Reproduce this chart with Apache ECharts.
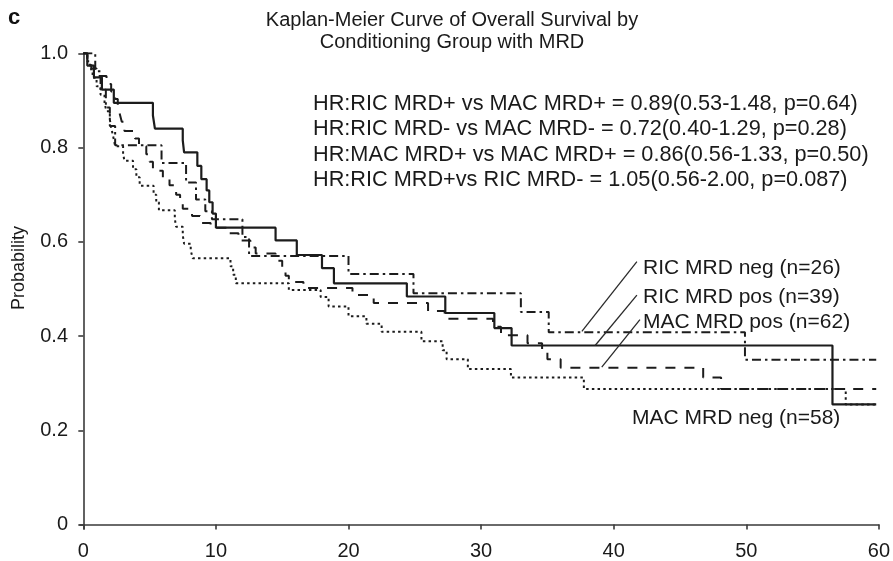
<!DOCTYPE html>
<html>
<head>
<meta charset="utf-8">
<script src="https://cdn.jsdelivr.net/npm/echarts@6/dist/echarts.min.js"></script>
<style>
  html, body { margin: 0; padding: 0; background: #fff; }
  #chart { width: 893px; height: 561px; }
</style>
</head>
<body>
<div id="chart"></div>
<script>
// Kaplan-Meier step estimates: month of each event and survival after it
const ricPosMonths = [0, 0.3, 0.8, 1.4, 2.3, 5.25, 5.4, 7.5, 7.6, 8.6, 8.9, 9.3, 9.5, 9.75, 10.0, 14.5, 16.1, 18.0, 18.9, 24.4, 27.3, 31.0, 32.3, 56.5, 59.8];
const ricPosSurv   = [1, 0.974, 0.949, 0.923, 0.895, 0.868, 0.84, 0.815, 0.79, 0.761, 0.733, 0.709, 0.684, 0.66, 0.63, 0.603, 0.572, 0.544, 0.512, 0.484, 0.449, 0.417, 0.38, 0.255, 0.255];

const ricNegMonths = [0, 0.9, 1.3, 1.7, 2.0, 2.4, 5.9, 7.75, 8.5, 9.2, 9.7, 12.0, 12.5, 20.0, 24.9, 33.0, 35.1, 49.9, 59.8];
const ricNegSurv   = [1, 0.962, 0.923, 0.885, 0.846, 0.805, 0.767, 0.726, 0.69, 0.665, 0.648, 0.61, 0.57, 0.532, 0.491, 0.451, 0.408, 0.35, 0.35];

const macPosMonths = [0, 0.3, 0.6, 1.0, 1.75, 2.1, 2.4, 2.6, 2.75, 2.9, 3.1, 3.9, 4.2, 4.75, 5.0, 5.25, 6.0, 6.5, 7.0, 7.3, 7.5, 8.2, 8.8, 9.6, 10.8, 11.7, 12.6, 13.0, 14.5, 15.0, 15.25, 15.5, 16.6, 20.3, 21.9, 26.0, 27.25, 30.9, 31.5, 33.5, 34.6, 35.0, 36.0, 46.75, 48.1, 59.8];
const macPosSurv   = [1, 0.984, 0.968, 0.952, 0.935, 0.919, 0.903, 0.887, 0.871, 0.855, 0.835, 0.819, 0.803, 0.786, 0.77, 0.751, 0.735, 0.72, 0.70, 0.685, 0.67, 0.655, 0.64, 0.63, 0.618, 0.603, 0.588, 0.575, 0.56, 0.544, 0.528, 0.515, 0.502, 0.487, 0.47, 0.453, 0.437, 0.42, 0.402, 0.385, 0.368, 0.351, 0.333, 0.312, 0.288, 0.288];

const macNegMonths = [0, 0.3, 0.5, 0.7, 1.0, 1.3, 1.6, 1.75, 2.0, 2.1, 2.25, 2.4, 3.0, 3.1, 3.75, 4.0, 4.25, 5.3, 5.5, 5.7, 6.9, 7.0, 7.5, 7.6, 8.1, 8.25, 11.1, 11.3, 11.5, 15.5, 17.9, 18.5, 20.0, 21.35, 22.5, 25.5, 27.1, 27.4, 29.0, 32.25, 37.75, 57.5, 59.8];
const macNegSurv   = [1, 0.983, 0.966, 0.948, 0.93, 0.912, 0.894, 0.877, 0.86, 0.842, 0.824, 0.803, 0.787, 0.772, 0.754, 0.737, 0.719, 0.70, 0.684, 0.667, 0.649, 0.632, 0.614, 0.596, 0.582, 0.565, 0.548, 0.53, 0.512, 0.498, 0.483, 0.463, 0.442, 0.426, 0.409, 0.389, 0.37, 0.351, 0.33, 0.312, 0.288, 0.255, 0.255];

// Group labels and the leader lines from each label to its curve
const groupLabels = ['RIC MRD neg (n=26)', 'RIC MRD pos (n=39)', 'MAC MRD pos (n=62)', 'MAC MRD neg (n=58)'];
const leaderRicNeg = [[41.75, 0.558], [37.6, 0.41]];
const leaderRicPos = [[41.75, 0.487], [38.6, 0.38]];
const leaderMacPos = [[41.98, 0.435], [39.1, 0.334]];

const titleLines = ['Kaplan-Meier Curve of Overall Survival by', 'Conditioning Group with MRD'];
const hrLines = [
  'HR:RIC MRD+ vs MAC MRD+ = 0.89(0.53-1.48, p=0.64)',
  'HR:RIC MRD- vs MAC MRD- = 0.72(0.40-1.29, p=0.28)',
  'HR:MAC MRD+ vs MAC MRD+ = 0.86(0.56-1.33, p=0.50)',
  'HR:RIC MRD+vs RIC MRD- = 1.05(0.56-2.00, p=0.087)'
];

const xTicks = [0, 10, 20, 30, 40, 50, 60];
const yTicks = [0, 0.2, 0.4, 0.6, 0.8, 1.0];

const pairs = (xs, ys) => xs.map((x, i) => [x, ys[i]]);
const FONT = '"Liberation Sans", Arial, Helvetica, sans-serif';
const INK = '#1c1c1c';
const AXIS = '#3a3a3a';

function stepSeries(name, xs, ys, type, width, z) {
  return {
    name, type: 'line', step: 'end', data: pairs(xs, ys),
    showSymbol: false, symbol: 'none', z,
    lineStyle: { color: INK, width, type, cap: 'butt' },
    emphasis: { disabled: true }, animation: false
  };
}
function leader(data) {
  return {
    type: 'line', data, showSymbol: false, symbol: 'none', z: 5,
    lineStyle: { color: '#2a2a2a', width: 1.3 }, animation: false, silent: true
  };
}

const chart = echarts.init(document.getElementById('chart'), null, { renderer: 'canvas' });

const labelTexts = [
  { text: groupLabels[0], x: 643, y: 268 },
  { text: groupLabels[1], x: 643, y: 297 },
  { text: groupLabels[2], x: 643, y: 322 },
  { text: groupLabels[3], x: 632, y: 418 }
];

chart.setOption({
  animation: false,
  backgroundColor: '#ffffff',
  grid: { left: 80, right: 9.7, top: 53.3, bottom: 28.3, containLabel: false },
  xAxis: {
    type: 'value', min: -0.25, max: 60,
    axisLine: { show: true, lineStyle: { color: AXIS, width: 1.6 } },
    axisTick: { show: true, customValues: xTicks, length: 5, lineStyle: { color: AXIS, width: 1.6 } },
    axisLabel: { customValues: xTicks, margin: 12, color: '#1a1a1a', fontSize: 20, fontFamily: FONT },
    splitLine: { show: false }
  },
  yAxis: {
    type: 'value', min: -0.0093, max: 1.0,
    axisLine: { show: true, lineStyle: { color: AXIS, width: 1.6 } },
    axisTick: { show: true, customValues: yTicks, length: 5, lineStyle: { color: AXIS, width: 1.6 } },
    axisLabel: {
      customValues: yTicks, margin: 12, color: '#1a1a1a', fontSize: 20, fontFamily: FONT,
      formatter: v => (Math.abs(v) < 1e-9 ? '0' : v.toFixed(1))
    },
    splitLine: { show: false }
  },
  series: [
    stepSeries('MAC MRD neg', macNegMonths, macNegSurv, [2.5, 3.2], 2, 2),
    stepSeries('MAC MRD pos', macPosMonths, macPosSurv, [10, 9], 2, 3),
    stepSeries('RIC MRD neg', ricNegMonths, ricNegSurv, [9, 4, 2.5, 4], 2, 3),
    stepSeries('RIC MRD pos', ricPosMonths, ricPosSurv, 'solid', 2.2, 4),
    leader(leaderRicNeg),
    leader(leaderRicPos),
    leader(leaderMacPos)
  ],
  graphic: [
    { type: 'text', x: 14, y: 18, style: { text: 'c', font: 'bold 22px ' + FONT, fill: '#111', textAlign: 'center', textVerticalAlign: 'middle' } },
    { type: 'text', x: 452, y: 20, style: { text: titleLines[0], font: '20px ' + FONT, fill: '#1a1a1a', textAlign: 'center', textVerticalAlign: 'middle' } },
    { type: 'text', x: 452, y: 42, style: { text: titleLines[1], font: '20px ' + FONT, fill: '#1a1a1a', textAlign: 'center', textVerticalAlign: 'middle' } },
    { type: 'text', x: 19, y: 268, rotation: Math.PI / 2, style: { text: 'Probability', font: '18px ' + FONT, fill: '#1a1a1a', textAlign: 'center', textVerticalAlign: 'middle' } }
  ]
  .concat(hrLines.map((t, i) => ({
    type: 'text', x: 313, y: 104 + i * 25.5,
    style: { text: t, font: '21.7px ' + FONT, fill: '#1a1a1a', textAlign: 'left', textVerticalAlign: 'middle' }
  })))
  .concat(labelTexts.map(l => ({
    type: 'text', x: l.x, y: l.y,
    style: { text: l.text, font: '21px ' + FONT, fill: '#1a1a1a', textAlign: 'left', textVerticalAlign: 'middle' }
  })))
});
</script>
</body>
</html>
